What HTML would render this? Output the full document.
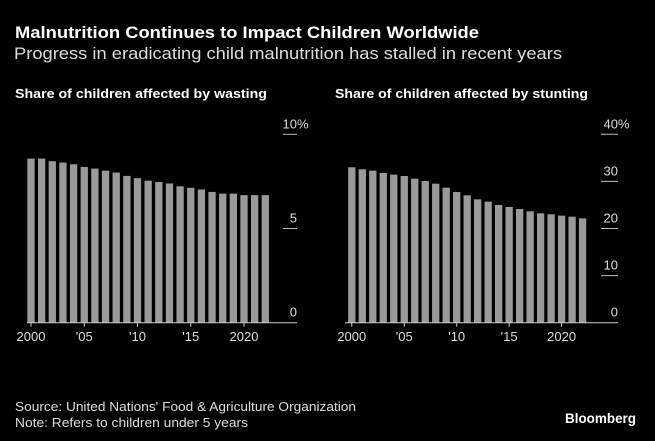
<!DOCTYPE html>
<html><head><meta charset="utf-8"><style>
html,body{margin:0;padding:0;background:#000;}
svg{display:block;font-family:"Liberation Sans",Arial,sans-serif;}
</style></head><body>
<svg id="chart" width="655" height="441" viewBox="0 0 655 441">
<rect width="655" height="441" fill="#000"/>
<text x="15" y="38" fill="#fff" font-size="17" font-weight="bold" textLength="464" lengthAdjust="spacingAndGlyphs">Malnutrition Continues to Impact Children Worldwide</text>
<text x="14" y="59" fill="#ddd" font-size="17" textLength="548" lengthAdjust="spacingAndGlyphs">Progress in eradicating child malnutrition has stalled in recent years</text>
<text x="15" y="98" fill="#fff" font-size="13" font-weight="bold" textLength="252" lengthAdjust="spacingAndGlyphs">Share of children affected by wasting</text>
<text x="335" y="98" fill="#fff" font-size="13" font-weight="bold" textLength="253" lengthAdjust="spacingAndGlyphs">Share of children affected by stunting</text>
<g id="left"></g>
<g id="right"></g>
<text x="15" y="411" fill="#ddd" font-size="13" textLength="341" lengthAdjust="spacingAndGlyphs">Source: United Nations' Food &amp; Agriculture Organization</text>
<text x="15" y="427" fill="#ddd" font-size="13" textLength="233" lengthAdjust="spacingAndGlyphs">Note: Refers to children under 5 years</text>
<text x="636" y="423" fill="#fff" font-size="14" font-weight="bold" text-anchor="end" textLength="71" lengthAdjust="spacingAndGlyphs">Bloomberg</text>
</svg>
<script>
const years = [2000,2001,2002,2003,2004,2005,2006,2007,2008,2009,2010,2011,2012,2013,2014,2015,2016,2017,2018,2019,2020,2021,2022];
const wasting = [8.71,8.71,8.57,8.50,8.41,8.27,8.18,8.07,7.97,7.79,7.67,7.54,7.47,7.39,7.24,7.16,7.07,6.94,6.85,6.85,6.77,6.77,6.77];
const stunting = [32.99,32.57,32.28,31.79,31.43,31.15,30.58,30.09,29.52,28.67,27.75,27.04,26.19,25.70,24.99,24.57,24.14,23.65,23.22,23.01,22.73,22.51,22.16];
const wastingTicks = [0,5,10];
const stuntingTicks = [0,10,20,30,40];
const yearTicks = [2000,2005,2010,2015,2020];
const yearTickLabels = ['2000',"'05","'10","'15",'2020'];
const NS='http://www.w3.org/2000/svg';
function mk(tag, attrs, parent){const e=document.createElementNS(NS,tag);for(const k in attrs)e.setAttribute(k,attrs[k]);parent.appendChild(e);return e;}
function draw(g, vals, ticks, max, x0, pitch, axisL, axisR, gridL, name){
  const base=322.7, top=134.3;
  const y=v=>base-(v/max)*(base-top);
  const x=yr=>x0+(yr-years[0])*pitch;
  const bw=7.3;
  vals.forEach((v,i)=>{
    const r=mk('rect',{x:x(years[i])-bw/2,y:y(v),width:bw,height:base-y(v),fill:'#9a9a9a'},g);
    
    
  });
  ticks.forEach((t,i)=>{
    if(t>0){
      const l=mk('line',{x1:gridL,x2:axisR,y1:y(t),y2:y(t),stroke:'#bbb','stroke-width':1},g);
      
      
    }
    const tx=mk('text',{x:axisR,y:y(t)-6,fill:'#ddd','font-size':13,'text-anchor':'end'},g);
    tx.textContent=String(t);
    
    
    if(i===ticks.length-1){
      const p=mk('text',{x:axisR,y:y(t)-6,fill:'#ddd','font-size':13},g);
      p.textContent='%';
      
      
    }
  });
  const ax=mk('line',{x1:axisL,x2:axisR,y1:base,y2:base,stroke:'#ccc','stroke-width':1},g);
  
  
  yearTicks.forEach((yr,i)=>{
    const t=mk('line',{x1:x(yr),x2:x(yr),y1:base,y2:base+4,stroke:'#ccc','stroke-width':1},g);
    
    
    const tx=mk('text',{x:x(yr),y:341,fill:'#ddd','font-size':13,'text-anchor':'middle'},g);
    tx.textContent=yearTickLabels[i];
    
    
  });
}
draw(document.getElementById('left'), wasting, wastingTicks, 10, 31, 10.65, 27, 297, 283, 'wasting');
draw(document.getElementById('right'), stunting, stuntingTicks, 40, 351.8, 10.49, 345, 618, 601, 'stunting');
</script>
</body></html>
